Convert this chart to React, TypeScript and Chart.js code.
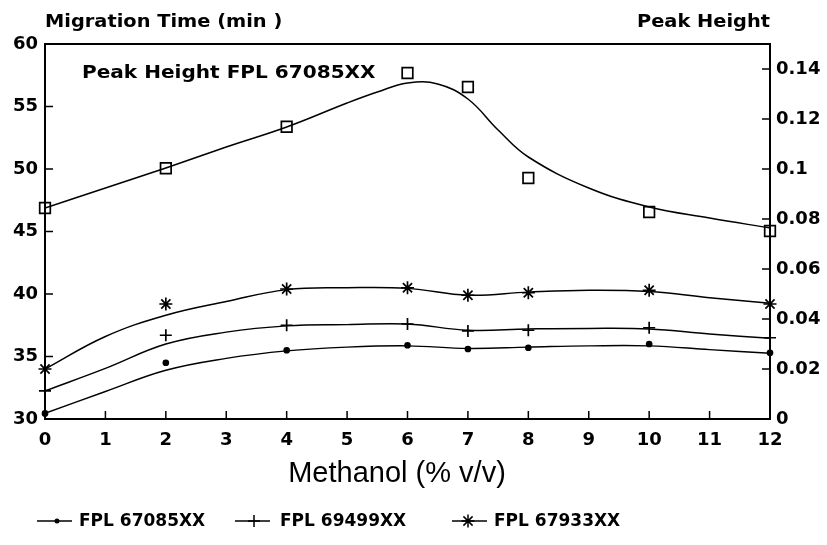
import React, { useEffect, useRef } from "react";
import { Chart, registerables } from "chart.js";

Chart.register(...registerables);

// ---- data ----
const methanol = [0, 2, 4, 6, 7, 8, 10, 12];
const peakHeight = [0.0844, 0.1003, 0.1169, 0.1384, 0.1328, 0.0964, 0.0828, 0.0752];
const mt67085 = [30.45, 34.5, 35.5, 35.9, 35.6, 35.7, 36.0, 35.3];
const mt69499 = [32.25, 36.7, 37.5, 37.6, 37.05, 37.1, 37.3, 36.5];
const mt67933 = [34.0, 39.2, 40.4, 40.5, 39.9, 40.1, 40.3, 39.2];

// fitted curves
const peakFitX = [0, 1, 2, 3, 4, 5, 5.5, 6, 6.5, 7, 7.5, 8, 9, 10, 11, 12];
const peakFit = [0.0844, 0.0924, 0.1004, 0.1088, 0.1168, 0.1264, 0.1308, 0.1344, 0.134, 0.128, 0.1156, 0.1048, 0.0924, 0.0848, 0.0804, 0.0764];
const fitX = [0, 1, 2, 3, 4, 5, 6, 7, 8, 9, 10, 11, 12];
const fit67085 = [30.45, 32.2, 33.9, 34.85, 35.45, 35.75, 35.85, 35.65, 35.75, 35.85, 35.85, 35.55, 35.25];
const fit69499 = [32.25, 34.05, 36.0, 36.95, 37.45, 37.55, 37.6, 37.1, 37.2, 37.25, 37.2, 36.8, 36.45];
const fit67933 = [34.0, 36.6, 38.3, 39.4, 40.35, 40.5, 40.45, 39.9, 40.15, 40.3, 40.2, 39.7, 39.25];

const xTicks = [0, 1, 2, 3, 4, 5, 6, 7, 8, 9, 10, 11, 12];
const leftTicks = [30, 35, 40, 45, 50, 55, 60];
const rightTicks = [0, 0.02, 0.04, 0.06, 0.08, 0.1, 0.12, 0.14];

const leftTitle = "Migration Time (min )";
const rightTitle = "Peak Height";
const innerLabel = "Peak Height FPL 67085XX";
const xTitle = "Methanol (% v/v)";
const legendNames = ["FPL 67085XX", "FPL 69499XX", "FPL 67933XX"];

const BOLD = "bold 17px 'DejaVu Sans'";
const TICKFONT = { family: "DejaVu Sans", weight: "bold", size: 18 };

const pts = (xs: number[], ys: number[]) => xs.map((x, i) => ({ x, y: ys[i] }));

function wideText(ctx: CanvasRenderingContext2D, s: string, x: number, y: number, sx: number) {
  ctx.save();
  ctx.translate(x, y);
  ctx.scale(sx, 1);
  ctx.fillText(s, 0, 0);
  ctx.restore();
}

function drawMarker(ctx: CanvasRenderingContext2D, kind: string, x: number, y: number) {
  ctx.beginPath();
  if (kind === "dot") {
    ctx.arc(x, y, 2.5, 0, Math.PI * 2);
    ctx.fill();
    return;
  }
  const r = kind === "star" ? 6.5 : 6;
  ctx.moveTo(x - r, y);
  ctx.lineTo(x + r, y);
  ctx.moveTo(x, y - r);
  ctx.lineTo(x, y + r);
  if (kind === "star") {
    const d = r * Math.SQRT1_2;
    ctx.moveTo(x - d, y - d);
    ctx.lineTo(x + d, y + d);
    ctx.moveTo(x - d, y + d);
    ctx.lineTo(x + d, y - d);
  }
  ctx.stroke();
}

const decor = {
  id: "decor",
  beforeDatasetsDraw(chart: any) {
    const { ctx, chartArea: a, scales } = chart;
    ctx.save();
    ctx.strokeStyle = "#000";
    ctx.lineWidth = 2;
    ctx.strokeRect(a.left, a.top, a.right - a.left, a.bottom - a.top);
    ctx.lineWidth = 1.5;
    ctx.beginPath();
    xTicks.forEach((v) => {
      const px = scales.x.getPixelForValue(v);
      ctx.moveTo(px, a.bottom);
      ctx.lineTo(px, a.bottom - 8);
    });
    leftTicks.forEach((v) => {
      const py = scales.y.getPixelForValue(v);
      ctx.moveTo(a.left, py);
      ctx.lineTo(a.left + 8, py);
    });
    rightTicks.forEach((v) => {
      const py = scales.y1.getPixelForValue(v);
      ctx.moveTo(a.right, py);
      ctx.lineTo(a.right - 8, py);
    });
    ctx.stroke();
    ctx.restore();
  },
  afterDraw(chart: any) {
    const { ctx, chartArea: a } = chart;
    ctx.save();
    ctx.fillStyle = "#000";
    ctx.strokeStyle = "#000";
    ctx.font = BOLD;
    ctx.textBaseline = "middle";
    ctx.textAlign = "left";
    wideText(ctx, leftTitle, a.left, 23, 1.14);
    ctx.textAlign = "right";
    wideText(ctx, rightTitle, a.right, 23, 1.14);
    ctx.textAlign = "left";
    wideText(ctx, innerLabel, 82, 74, 1.18);

    ctx.font = "29px 'Liberation Sans'";
    ctx.textAlign = "center";
    ctx.fillText(xTitle, 397, 474);

    // legend
    ctx.font = BOLD;
    ctx.textAlign = "left";
    ctx.lineWidth = 1.5;
    const items = [
      { x0: 37, x1: 72, m: 57, kind: "dot", tx: 79 },
      { x0: 235, x1: 270, m: 254, kind: "plus", tx: 280 },
      { x0: 452, x1: 487, m: 468, kind: "star", tx: 494 },
    ];
    const ly = 521;
    items.forEach((it, i) => {
      ctx.beginPath();
      ctx.moveTo(it.x0, ly);
      ctx.lineTo(it.x1, ly);
      ctx.stroke();
      drawMarker(ctx, it.kind, it.m, ly);
      ctx.fillText(legendNames[i], it.tx, ly + 1);
    });
    ctx.restore();
  },
};

export default function App() {
  const ref = useRef<HTMLCanvasElement>(null);
  useEffect(() => {
    if (!ref.current) return;
    const curve = (data: any[], axis: string) => ({
      data,
      yAxisID: axis,
      borderColor: "#000",
      borderWidth: 1.5,
      pointRadius: 0,
      showLine: true,
      fill: false,
      tension: 0.4,
    });
    const marks = (data: any[], axis: string, style: string, r: number, fillC: string) => ({
      data,
      yAxisID: axis,
      showLine: false,
      pointStyle: style,
      pointRadius: r,
      pointBorderColor: "#000",
      pointBackgroundColor: fillC,
      pointBorderWidth: 1.7,
      borderColor: "#000",
      clip: false as const,
    });
    const chart = new Chart(ref.current, {
      type: "line",
      data: {
        datasets: [
          curve(pts(peakFitX, peakFit), "y1"),
          curve(pts(fitX, fit67085), "y"),
          curve(pts(fitX, fit69499), "y"),
          curve(pts(fitX, fit67933), "y"),
          marks(pts(methanol, peakHeight), "y1", "rect", 7.5, "rgba(0,0,0,0)"),
          marks(pts(methanol, mt67085), "y", "circle", 2.5, "#000"),
          marks(pts(methanol, mt69499), "y", "cross", 6, "#000"),
          marks(pts(methanol, mt67933), "y", "star", 6.5, "#000"),
        ] as any,
      },
      options: {
        animation: false,
        responsive: false,
        layout: { padding: { top: 44, left: 0, right: 0, bottom: 100 } },
        plugins: { legend: { display: false }, tooltip: { enabled: false } },
        scales: {
          x: {
            type: "linear",
            min: 0,
            max: 12,
            grid: { display: false, drawTicks: false },
            border: { display: false },
            afterBuildTicks: (s: any) => {
              s.ticks = xTicks.map((v) => ({ value: v }));
            },
            afterFit: (s: any) => {
              s.height = 26;
            },
            ticks: { color: "#000", font: TICKFONT, padding: 11, maxRotation: 0 },
          },
          y: {
            type: "linear",
            position: "left",
            min: 30,
            max: 60,
            grid: { display: false, drawTicks: false },
            border: { display: false },
            afterBuildTicks: (s: any) => {
              s.ticks = leftTicks.map((v) => ({ value: v }));
            },
            afterFit: (s: any) => {
              s.width = 45;
            },
            ticks: { color: "#000", font: TICKFONT, padding: 7 },
          },
          y1: {
            type: "linear",
            position: "right",
            min: 0,
            max: 0.15,
            grid: { display: false, drawTicks: false },
            border: { display: false },
            afterBuildTicks: (s: any) => {
              s.ticks = rightTicks.map((v) => ({ value: v }));
            },
            afterFit: (s: any) => {
              s.width = 57;
            },
            ticks: {
              color: "#000",
              font: TICKFONT,
              padding: 6,
              callback: (v: any) => String(+Number(v).toFixed(2)),
            },
          },
        },
      } as any,
      plugins: [decor],
    });
    return () => chart.destroy();
  }, []);
  return (
    <div style={{ position: "absolute", left: 0, top: 0, width: 827, height: 545, background: "#fff" }}>
      <canvas ref={ref} width={827} height={545} />
    </div>
  );
}
